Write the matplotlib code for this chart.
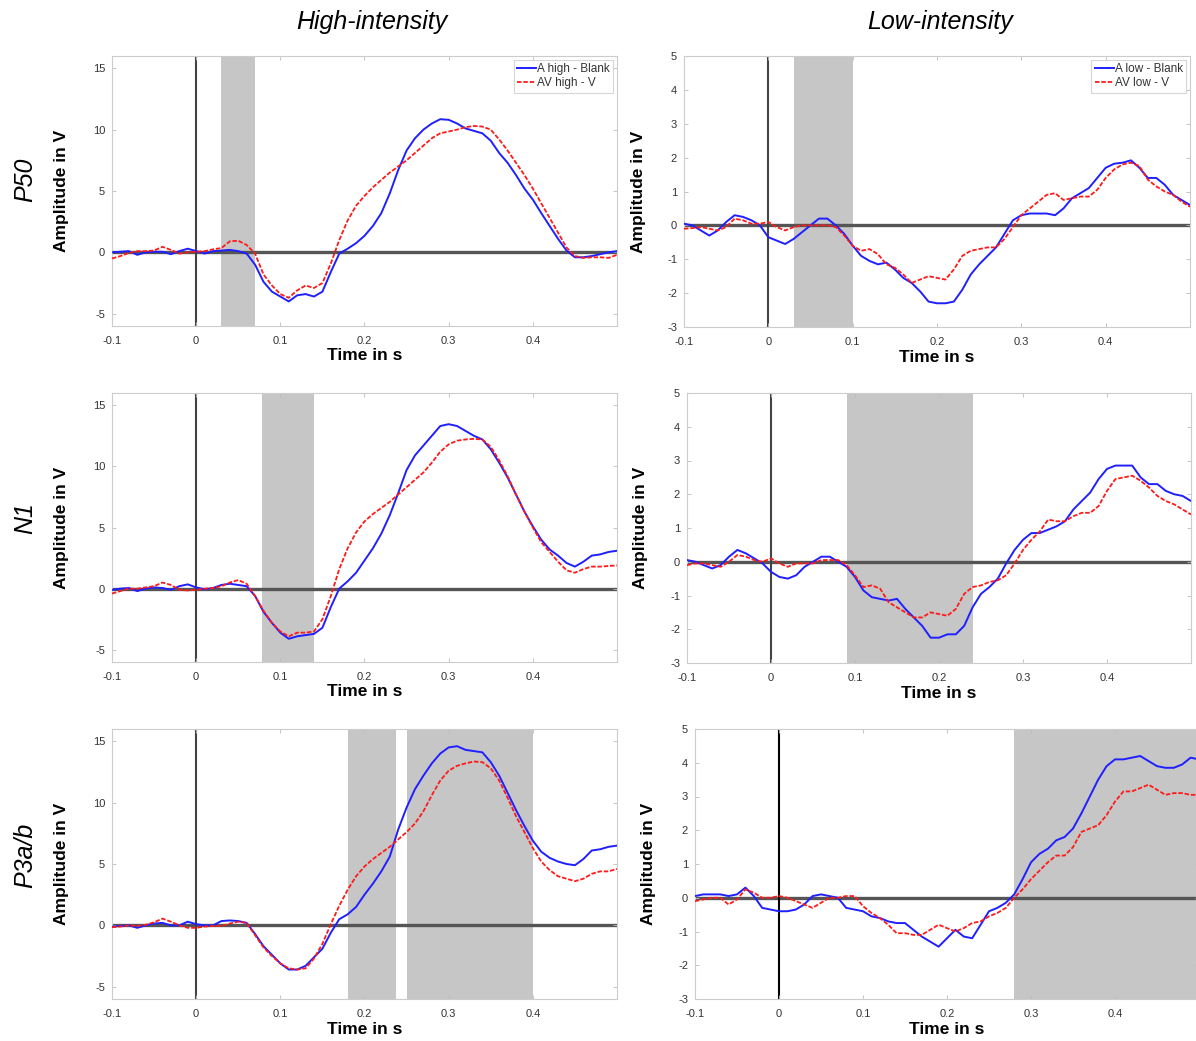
import numpy as np
import matplotlib
matplotlib.use('Agg')
import matplotlib.pyplot as plt

plt.rcParams['font.family'] = ['Liberation Sans', 'DejaVu Sans']
plt.rcParams['axes.unicode_minus'] = False

# sample times (s), one value every 10 ms
t = np.round(np.arange(-0.1, 0.5001, 0.01), 2)

# ---- high intensity, P50 window ----
p50_hi_a = [0.0, 0.05, 0.1, -0.2, 0.0, 0.05, 0.05, -0.15, 0.1, 0.3,
            0.1, -0.1, 0.1, 0.15, 0.2, 0.1, -0.1, -1.0, -2.4, -3.2,
            -3.6, -4.0, -3.5, -3.4, -3.6, -3.2, -1.6, -0.1, 0.3, 0.75,
            1.35, 2.15, 3.2, 4.8, 6.7, 8.3, 9.3, 10.0, 10.5, 10.85,
            10.8, 10.5, 10.1, 9.9, 9.7, 9.1, 8.1, 7.3, 6.3, 5.2,
            4.3, 3.2, 2.15, 1.1, 0.15, -0.4, -0.4, -0.3, -0.15, 0.0, 0.1]
p50_hi_av = [-0.5, -0.3, -0.05, 0.1, 0.1, 0.15, 0.45, 0.2, -0.1, 0.0,
             0.05, 0.1, 0.25, 0.35, 0.9, 0.95, 0.6, -0.1, -1.8, -2.7,
             -3.4, -3.7, -3.1, -2.7, -2.9, -2.5, -0.9, 1.0, 2.6, 3.8,
             4.6, 5.3, 5.9, 6.5, 7.0, 7.5, 8.1, 8.7, 9.3, 9.7,
             9.85, 10.0, 10.2, 10.3, 10.25, 10.0, 9.2, 8.3, 7.3, 6.3,
             5.2, 4.0, 2.8, 1.6, 0.4, -0.3, -0.45, -0.4, -0.4, -0.45, -0.2]

# ---- high intensity, N1 window ----
n1_hi_a = [-0.1, 0.0, 0.05, -0.2, 0.0, 0.1, 0.05, -0.1, 0.2, 0.35,
           0.1, -0.05, 0.05, 0.3, 0.4, 0.3, 0.2, -0.6, -1.9, -2.8,
           -3.6, -4.1, -3.9, -3.8, -3.7, -3.2, -1.5, 0.0, 0.6, 1.3,
           2.3, 3.3, 4.5, 6.0, 7.8, 9.7, 10.9, 11.7, 12.5, 13.3,
           13.45, 13.3, 12.9, 12.5, 12.2, 11.4, 10.3, 9.1, 7.7, 6.3,
           5.1, 4.0, 3.2, 2.7, 2.1, 1.8, 2.2, 2.7, 2.8, 3.0, 3.1]
n1_hi_av = [-0.4, -0.2, 0.0, 0.0, 0.1, 0.2, 0.5, 0.3, -0.1, -0.15,
            -0.1, 0.0, 0.05, 0.2, 0.5, 0.7, 0.4, -0.6, -1.8, -2.8,
            -3.5, -3.9, -3.6, -3.6, -3.5, -2.5, -0.6, 1.6, 3.3, 4.6,
            5.5, 6.1, 6.6, 7.1, 7.7, 8.3, 8.9, 9.5, 10.3, 11.2,
            11.8, 12.1, 12.2, 12.25, 12.2, 11.6, 10.5, 9.2, 7.7, 6.3,
            5.0, 3.8, 3.0, 2.2, 1.5, 1.3, 1.6, 1.8, 1.8, 1.85, 1.9]

# ---- high intensity, P3a/b window ----
p3_hi_a = [-0.1, -0.05, 0.0, -0.2, 0.0, 0.15, 0.2, 0.0, 0.0, 0.3,
           0.1, 0.0, 0.0, 0.35, 0.4, 0.35, 0.2, -0.7, -1.7, -2.4,
           -3.1, -3.6, -3.6, -3.3, -2.6, -1.9, -0.6, 0.5, 0.9, 1.5,
           2.5, 3.4, 4.4, 5.6, 7.8, 9.6, 11.1, 12.2, 13.2, 14.0,
           14.5, 14.6, 14.3, 14.2, 14.1, 13.3, 12.2, 10.8, 9.4, 8.1,
           6.9, 6.0, 5.5, 5.2, 5.0, 4.9, 5.4, 6.1, 6.2, 6.4, 6.5]
p3_hi_av = [-0.15, -0.1, 0.0, -0.05, 0.05, 0.25, 0.55, 0.3, 0.0, -0.2,
            -0.2, -0.1, -0.05, -0.05, 0.15, 0.3, 0.2, -0.8, -1.8, -2.5,
            -3.1, -3.5, -3.6, -3.5, -2.7, -1.5, 0.1, 1.6, 2.9, 4.0,
            4.8, 5.4, 5.9, 6.4, 7.0, 7.6, 8.3, 9.3, 10.6, 11.8,
            12.6, 13.0, 13.2, 13.35, 13.3, 12.8, 11.8, 10.4, 8.9, 7.6,
            6.3, 5.2, 4.5, 4.0, 3.8, 3.6, 3.8, 4.2, 4.4, 4.4, 4.6]

# ---- low intensity, P50 window ----
p50_lo_a = [0.05, 0.0, -0.15, -0.3, -0.15, 0.1, 0.3, 0.25, 0.15, 0.0,
            -0.35, -0.45, -0.55, -0.4, -0.2, 0.0, 0.2, 0.2, 0.0, -0.25,
            -0.6, -0.9, -1.05, -1.15, -1.1, -1.3, -1.55, -1.7, -1.95, -2.25,
            -2.3, -2.3, -2.25, -1.9, -1.45, -1.15, -0.9, -0.65, -0.25, 0.15,
            0.3, 0.35, 0.35, 0.35, 0.3, 0.5, 0.8, 0.95, 1.1, 1.4,
            1.7, 1.82, 1.85, 1.92, 1.7, 1.4, 1.4, 1.2, 0.9, 0.75, 0.6]
p50_lo_av = [-0.1, -0.08, -0.05, -0.1, -0.15, -0.05, 0.2, 0.15, 0.05, 0.05,
             0.1, -0.05, -0.15, -0.05, 0.0, 0.0, 0.0, 0.0, -0.05, -0.3,
             -0.6, -0.75, -0.7, -0.85, -1.15, -1.25, -1.45, -1.7, -1.6, -1.5,
             -1.55, -1.6, -1.3, -0.9, -0.75, -0.7, -0.65, -0.65, -0.4, -0.05,
             0.3, 0.5, 0.7, 0.9, 0.95, 0.75, 0.8, 0.85, 0.85, 1.05,
             1.4, 1.65, 1.8, 1.85, 1.75, 1.35, 1.15, 1.0, 0.9, 0.7, 0.55]

# ---- low intensity, N1 window ----
n1_lo_a = [0.05, 0.0, -0.1, -0.2, -0.1, 0.15, 0.35, 0.25, 0.1, -0.05,
           -0.3, -0.45, -0.5, -0.4, -0.15, 0.0, 0.15, 0.15, 0.0, -0.15,
           -0.45, -0.85, -1.05, -1.1, -1.15, -1.1, -1.4, -1.65, -1.9, -2.25,
           -2.25, -2.15, -2.15, -1.9, -1.35, -0.95, -0.75, -0.5, -0.05, 0.35,
           0.65, 0.85, 0.85, 0.95, 1.05, 1.2, 1.55, 1.8, 2.05, 2.45,
           2.75, 2.85, 2.85, 2.85, 2.5, 2.3, 2.3, 2.1, 2.0, 1.95, 1.8]
n1_lo_av = [-0.1, -0.05, -0.05, -0.1, -0.15, 0.0, 0.2, 0.15, 0.05, 0.0,
            0.1, -0.05, -0.15, -0.05, -0.05, -0.05, 0.05, 0.05, 0.05, -0.1,
            -0.4, -0.75, -0.7, -0.8, -1.2, -1.35, -1.5, -1.65, -1.65, -1.5,
            -1.55, -1.6, -1.4, -0.95, -0.75, -0.7, -0.6, -0.55, -0.4, -0.05,
            0.35, 0.65, 0.9, 1.25, 1.2, 1.2, 1.35, 1.45, 1.45, 1.65,
            2.1, 2.45, 2.5, 2.55, 2.4, 2.2, 1.95, 1.8, 1.7, 1.55, 1.4]

# ---- low intensity, P3a/b window ----
p3_lo_a = [0.05, 0.1, 0.1, 0.1, 0.05, 0.1, 0.3, 0.05, -0.3, -0.35,
           -0.4, -0.4, -0.35, -0.2, 0.05, 0.1, 0.05, 0.0, -0.3, -0.35,
           -0.4, -0.55, -0.6, -0.7, -0.75, -0.75, -0.95, -1.15, -1.3, -1.45,
           -1.2, -0.95, -1.15, -1.2, -0.8, -0.4, -0.3, -0.15, 0.1, 0.55,
           1.05, 1.3, 1.45, 1.7, 1.8, 2.05, 2.5, 3.0, 3.5, 3.9,
           4.1, 4.1, 4.15, 4.2, 4.05, 3.9, 3.85, 3.85, 3.95, 4.15, 4.1]
p3_lo_av = [-0.1, -0.05, 0.0, 0.0, -0.2, -0.05, 0.25, 0.15, 0.0, 0.0,
            0.05, 0.0, -0.1, -0.2, -0.3, -0.15, 0.0, 0.0, 0.05, 0.05,
            -0.25, -0.45, -0.6, -0.8, -1.05, -1.05, -1.1, -1.1, -0.95, -0.8,
            -0.9, -1.0, -0.9, -0.75, -0.7, -0.55, -0.45, -0.3, 0.0, 0.25,
            0.55, 0.8, 1.05, 1.25, 1.25, 1.5, 1.95, 2.05, 2.15, 2.45,
            2.85, 3.15, 3.15, 3.25, 3.35, 3.2, 3.05, 3.1, 3.1, 3.05, 3.05]

# significant time windows (s)
win_p50_hi = [(0.03, 0.07)]
win_n1_hi = [(0.078, 0.14)]
win_p3_hi = [(0.18, 0.238), (0.25, 0.40)]
win_p50_lo = [(0.03, 0.10)]
win_n1_lo = [(0.09, 0.24)]
win_p3_lo = [(0.28, 0.5)]

col_titles = ['High-intensity', 'Low-intensity']
row_labels = ['P50', 'N1', 'P3a/b']

W, H = 1196, 1041
fig = plt.figure(figsize=(W / 100, H / 100), dpi=100)

def px_axes(l, r, top, bot):
    return fig.add_axes([l / W, 1 - bot / H, (r - l) / W, (bot - top) / H])

panels = [
    # left, right, top, bottom, blue, red, windows, ylim, legend names, ylabel x (px)
    (112, 617, 56, 326, p50_hi_a, p50_hi_av, win_p50_hi, (-6, 16), ('A high - Blank', 'AV high - V'), 62),
    (684, 1190, 56, 327, p50_lo_a, p50_lo_av, win_p50_lo, (-3, 5), ('A low - Blank', 'AV low - V'), 639),
    (112, 617, 393, 662, n1_hi_a, n1_hi_av, win_n1_hi, (-6, 16), None, 62),
    (687, 1191, 393, 663, n1_lo_a, n1_lo_av, win_n1_lo, (-3, 5), None, 641),
    (112, 617, 729, 999, p3_hi_a, p3_hi_av, win_p3_hi, (-6, 16), None, 62),
    (695, 1199, 729, 999, p3_lo_a, p3_lo_av, win_p3_lo, (-3, 5), None, 648),
]

for i, (l, r, top, bot, ya, yav, wins, ylim, names, ylx) in enumerate(panels):
    ax = px_axes(l, r, top, bot)
    for a, b in wins:
        ax.axvspan(a, b, color='#c6c6c6', lw=0, zorder=0)
    ax.axhline(0, color='#555555', lw=2.4, zorder=1)
    vcol = 'black' if i == 5 else '#444444'
    ax.axvline(0, color=vcol, lw=1.5, zorder=1)
    ax.plot(t, ya, color='#1f1fff', lw=1.4, label=names[0] if names else None,
            zorder=3, solid_joinstyle='round')
    ax.plot(t, yav, color='#ff1a1a', lw=1.3, ls=(0, (2.5, 1)), label=names[1] if names else None,
            zorder=3)
    ax.set_xlim(-0.1, 0.5)
    ax.set_ylim(*ylim)
    ax.set_xticks([-0.1, 0, 0.1, 0.2, 0.3, 0.4])
    ax.set_xticklabels(['-0.1', '0', '0.1', '0.2', '0.3', '0.4'])
    if ylim[1] == 16:
        ax.set_yticks([-5, 0, 5, 10, 15])
    else:
        ax.set_yticks(range(-3, 6))
    ax.tick_params(direction='in', length=3, width=0.6, color='#bbbbbb',
                   labelsize=8, labelcolor='#333333', top=True, right=True)
    ax.tick_params(axis='x', pad=7)
    ax.tick_params(axis='y', pad=5)
    for s in ax.spines.values():
        s.set_color('#cccccc')
        s.set_linewidth(0.8)
    ax.set_xlabel('Time in s', fontsize=12.5, fontweight='bold')
    ax.set_ylabel('Amplitude in V', fontsize=12.5, fontweight='bold')
    ax.xaxis.set_label_coords(0.5, -(356 - 326) / (bot - top), transform=None) if False else \
        ax.xaxis.set_label_coords(0.5, -30 / (bot - top))
    ax.xaxis.label.set_va('center')
    ax.yaxis.set_label_coords((ylx - l) / (r - l), 0.5)
    ax.yaxis.label.set_va('center')
    if names:
        leg = ax.legend(loc='upper right', fontsize=8.5, handlelength=1.6, handletextpad=0.1,
                        borderpad=0.3, borderaxespad=0.3, labelspacing=0.2, fancybox=False)
        leg.get_frame().set_edgecolor('#cccccc')
        leg.get_frame().set_linewidth(0.8)
        for txt in leg.get_texts():
            txt.set_color('#333333')

fig.text(372 / W, 1 - 22 / H, col_titles[0], fontsize=18, style='italic', ha='center', va='center')
fig.text(940 / W, 1 - 22 / H, col_titles[1], fontsize=18, style='italic', ha='center', va='center')
for lab, yc in zip(row_labels, [180, 518, 855]):
    fig.text(25 / W, 1 - yc / H, lab, fontsize=18, style='italic', rotation=90, ha='center', va='center')

fig.savefig('out.png', dpi=100)
